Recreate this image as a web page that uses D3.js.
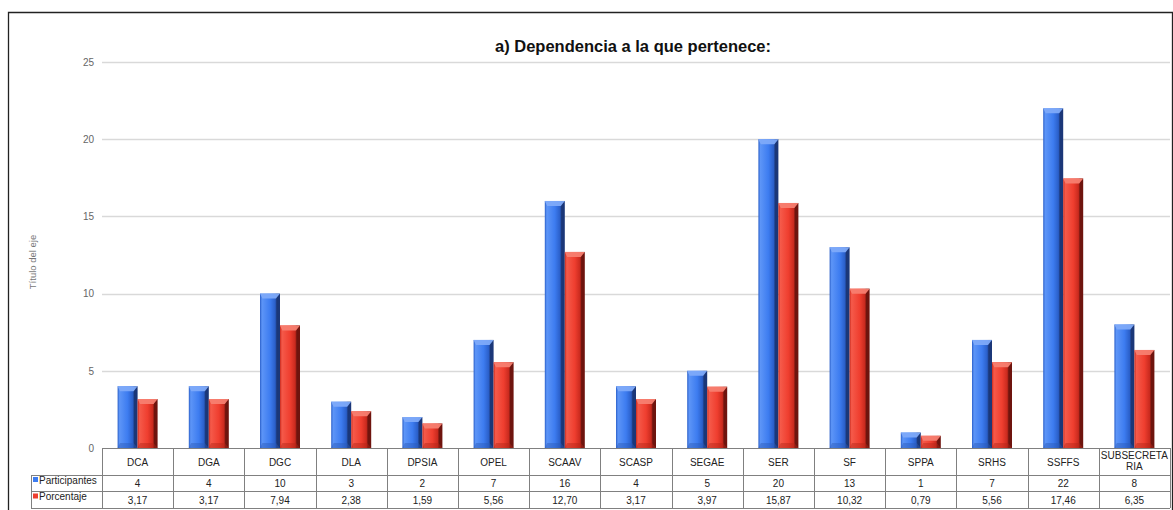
<!DOCTYPE html>
<html>
<head>
<meta charset="utf-8">
<script src="https://cdn.jsdelivr.net/npm/d3@7"></script>
<style>
  html, body { margin: 0; padding: 0; background: #fff; }
  svg { display: block; font-family: "Liberation Sans", Arial, sans-serif; }
</style>
</head>
<body>
<svg id="chart" width="1173" height="510"></svg>
<script>
// Dependencies and their values
const categories = ["DCA", "DGA", "DGC", "DLA", "DPSIA", "OPEL", "SCAAV", "SCASP", "SEGAE", "SER", "SF", "SPPA", "SRHS", "SSFFS", "SUBSECRETARIA"];
const categoryLabels = [["DCA"], ["DGA"], ["DGC"], ["DLA"], ["DPSIA"], ["OPEL"], ["SCAAV"], ["SCASP"], ["SEGAE"], ["SER"], ["SF"], ["SPPA"], ["SRHS"], ["SSFFS"], ["SUBSECRETA", "RIA"]];
const participantes = [4, 4, 10, 3, 2, 7, 16, 4, 5, 20, 13, 1, 7, 22, 8];
const porcentaje = [3.17, 3.17, 7.94, 2.38, 1.59, 5.56, 12.70, 3.17, 3.97, 15.87, 10.32, 0.79, 5.56, 17.46, 6.35];
const seriesNames = ["Participantes", "Porcentaje"];
const yTicks = [0, 5, 10, 15, 20, 25];

const fmt = v => (Number.isInteger(v) ? String(v) : v.toFixed(2).replace(".", ","));

const svg = d3.select("#chart");
const plot = { left: 102, right: 1170, top: 62, bottom: 448 };
const tableRows = { catBottom: 475, row1Bottom: 491, row2Bottom: 508 };
const legendLeft = 31;

const x = d3.scaleBand().domain(categories).range([plot.left, plot.right]).paddingInner(0).paddingOuter(0);
const xs = d3.scaleBand().domain(seriesNames).range([0, x.bandwidth()]).paddingInner(0).paddingOuter(0.78);
const y = d3.scaleLinear().domain([0, 25]).range([plot.bottom, plot.top]);

// Outer frame
svg.append("path")
  .attr("d", `M8.5,510 V12.5 H1172.5 V510`)
  .attr("fill", "none").attr("stroke", "#222").attr("stroke-width", 1.3);

// Title
svg.append("text")
  .attr("x", 633).attr("y", 52)
  .attr("text-anchor", "middle")
  .attr("font-weight", "bold").attr("font-size", 16.5)
  .attr("fill", "#111")
  .text("a) Dependencia a la que pertenece:");

// Gridlines and tick labels
const yAxis = d3.axisLeft(y).tickValues(yTicks).tickSize(0).tickPadding(8);
const gy = svg.append("g").attr("transform", `translate(${plot.left},0)`).call(yAxis);
gy.select(".domain").remove();
gy.selectAll("text").attr("font-size", 10).attr("fill", "#666").attr("font-family", "Liberation Sans, Arial, sans-serif");
svg.append("g").selectAll("line").data(yTicks.filter(t => t > 0)).join("line")
  .attr("x1", plot.left).attr("x2", plot.right)
  .attr("y1", d => Math.round(y(d)) + 0.5).attr("y2", d => Math.round(y(d)) + 0.5)
  .attr("stroke", "#d9d9d9").attr("stroke-width", 1.3);

// Axis title
svg.append("text")
  .attr("transform", `translate(36,262) rotate(-90)`)
  .attr("text-anchor", "middle")
  .attr("font-size", 9.5).attr("fill", "#777")
  .text("Título del eje");

// Bevelled bar gradients
const defs = svg.append("defs");
const palettes = {
  Participantes: { light: "#5d95f7", mid: "#3d7cf0", dark: "#2a5fc9", edge: "#1b3778", top: "#7eaaf9", bottom: "#2c5cb8" },
  Porcentaje: { light: "#f55a4a", mid: "#ef3e2f", dark: "#c92a1e", edge: "#6e140e", top: "#f77e70", bottom: "#b32518" }
};
seriesNames.forEach((s, i) => {
  const p = palettes[s];
  const g = defs.append("linearGradient").attr("id", "grad" + i).attr("x1", 0).attr("x2", 1).attr("y1", 0).attr("y2", 0);
  [[0, p.dark], [0.1, p.light], [0.5, p.mid], [0.76, p.dark], [0.84, p.edge], [1, p.edge]]
    .forEach(([o, c]) => g.append("stop").attr("offset", o).attr("stop-color", c));
});

const barData = [];
categories.forEach((c, i) => {
  barData.push({ cat: c, series: "Participantes", value: participantes[i], idx: 0 });
  barData.push({ cat: c, series: "Porcentaje", value: porcentaje[i], idx: 1 });
});

const bars = svg.append("g").selectAll("g").data(barData).join("g");
bars.each(function (d) {
  const g = d3.select(this);
  const p = palettes[d.series];
  const x0 = x(d.cat) + xs(d.series);
  const w = xs.bandwidth();
  const yTop = y(d.value);
  const h = plot.bottom - yTop;
  const bev = Math.min(5, h / 2);
  g.append("rect").attr("x", x0).attr("y", yTop).attr("width", w).attr("height", h)
    .attr("fill", `url(#grad${d.idx})`);
  // top bevel
  g.append("path")
    .attr("d", `M${x0},${yTop} H${x0 + w} L${x0 + w * 0.8},${yTop + bev} H${x0 + w * 0.12} Z`)
    .attr("fill", p.top).attr("opacity", 0.95);
  // bottom bevel
  g.append("path")
    .attr("d", `M${x0},${plot.bottom} H${x0 + w} L${x0 + w * 0.8},${plot.bottom - bev} H${x0 + w * 0.12} Z`)
    .attr("fill", p.bottom).attr("opacity", 0.45);
});

// Data table under the axis
const table = svg.append("g").attr("stroke", "#808080").attr("stroke-width", 1).attr("fill", "none");
table.append("line").attr("x1", plot.left).attr("x2", plot.right).attr("y1", plot.bottom + 0.5).attr("y2", plot.bottom + 0.5);
[tableRows.catBottom, tableRows.row1Bottom, tableRows.row2Bottom].forEach(yy =>
  table.append("line").attr("x1", legendLeft).attr("x2", plot.right).attr("y1", yy + 0.5).attr("y2", yy + 0.5));
categories.forEach((c, i) => {
  const xx = Math.round(x(c)) + 0.5;
  table.append("line").attr("x1", xx).attr("x2", xx).attr("y1", plot.bottom).attr("y2", tableRows.row2Bottom);
});
table.append("line").attr("x1", plot.right + 0.5).attr("x2", plot.right + 0.5).attr("y1", plot.bottom).attr("y2", tableRows.row2Bottom);
table.append("line").attr("x1", legendLeft + 0.5).attr("x2", legendLeft + 0.5).attr("y1", tableRows.catBottom).attr("y2", tableRows.row2Bottom);

const txt = svg.append("g").attr("font-size", 10).attr("fill", "#222").attr("text-anchor", "middle");
categories.forEach((c, i) => {
  const cx = x(c) + x.bandwidth() / 2;
  const lines = categoryLabels[i];
  lines.forEach((l, k) => {
    const yy = lines.length === 1 ? 466 : 459 + k * 11;
    txt.append("text").attr("x", cx).attr("y", yy).text(l);
  });
  txt.append("text").attr("x", cx).attr("y", 487).text(fmt(participantes[i]));
  txt.append("text").attr("x", cx).attr("y", 503.5).text(fmt(porcentaje[i]));
});

// Legend keys in the table
const legendRows = [{ name: "Participantes", y: 483 }, { name: "Porcentaje", y: 499.5 }];
legendRows.forEach((r, i) => {
  svg.append("rect").attr("x", 33).attr("y", r.y - 6).attr("width", 5).attr("height", 5)
    .attr("fill", i === 0 ? "#3d7cf0" : "#ef3e2f");
  svg.append("text").attr("x", 39).attr("y", r.y + 0.5).attr("font-size", 10).attr("fill", "#222").text(r.name);
});
</script>
</body>
</html>
